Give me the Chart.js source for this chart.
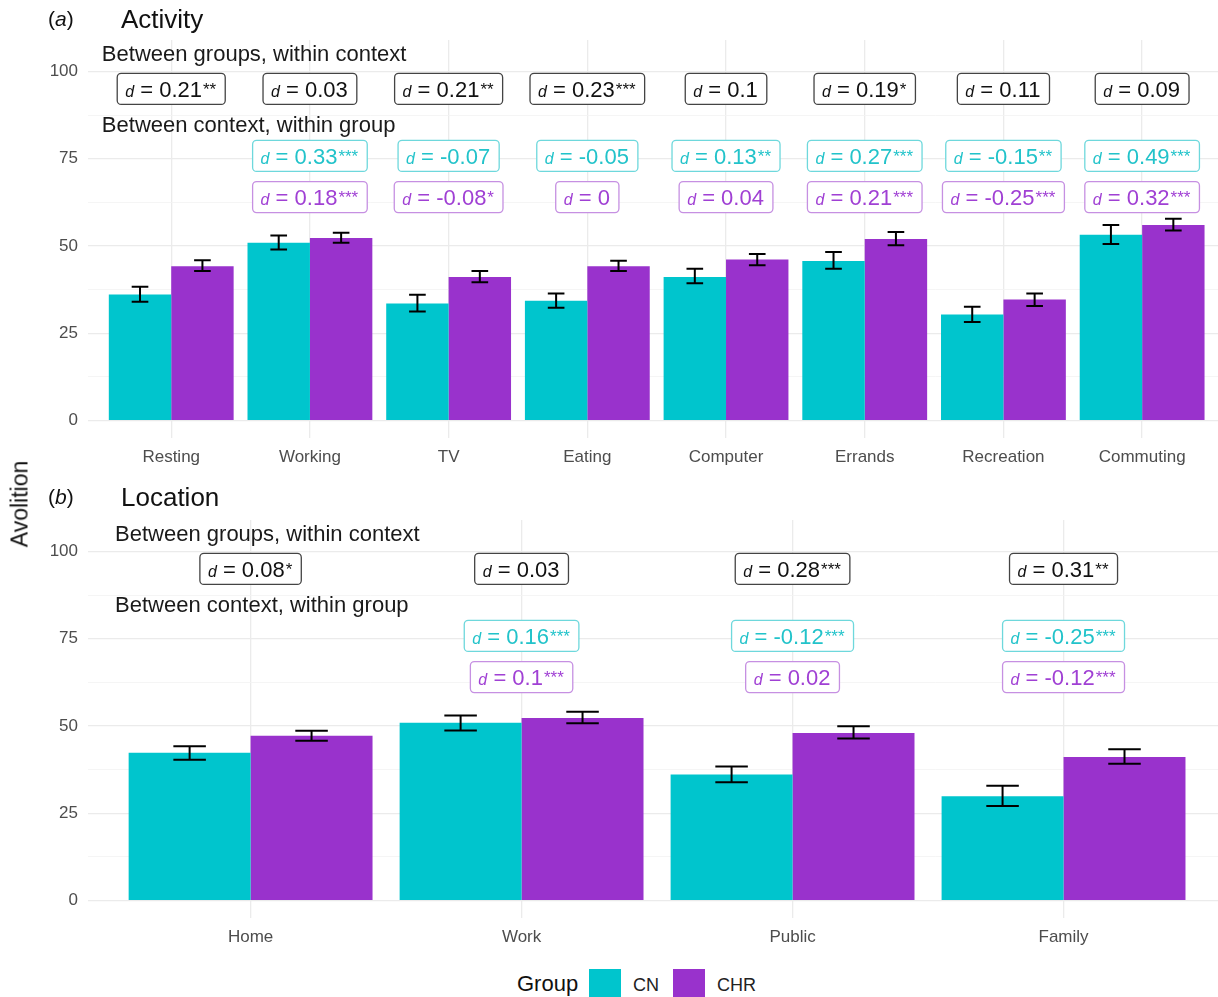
<!DOCTYPE html>
<html>
<head>
<meta charset="utf-8">
<script src="https://cdn.jsdelivr.net/npm/chart.js@4.4.1/dist/chart.umd.min.js"></script>
<style>
  body { margin: 0; background: #fff; font-family: "Liberation Sans", Arial, sans-serif; }
  #wrap { position: relative; width: 1218px; height: 997px; overflow: hidden; }
  canvas { position: absolute; left: 0; }
  .t { position: absolute; white-space: nowrap; color: #111; }
  .sq { position: absolute; width: 32px; height: 32px; }
</style>
</head>
<body>
<div id="wrap">
  <canvas id="actChart" width="1218" height="475" style="top:0"></canvas>
  <canvas id="locChart" width="1218" height="475" style="top:480px"></canvas>

  <div class="t" style="left:48px;top:7px;font-size:21px">(<i>a</i>)</div>
  <div class="t" style="left:121px;top:4px;font-size:26px">Activity</div>
  <div class="t" style="left:48px;top:485px;font-size:21px">(<i>b</i>)</div>
  <div class="t" style="left:121px;top:482px;font-size:26px">Location</div>
  <div class="t" style="left:20px;top:504px;font-size:23px;transform:translate(-50%,-50%) rotate(-90deg)">Avolition</div>

  <div class="t" style="left:517px;top:971px;font-size:22px">Group</div>
  <div class="sq" style="left:589px;top:969px;background:#00C5CD"></div>
  <div class="t" style="left:633px;top:975px;font-size:18px;color:#222">CN</div>
  <div class="sq" style="left:673px;top:969px;background:#9932CC"></div>
  <div class="t" style="left:717px;top:975px;font-size:18px;color:#222">CHR</div>
</div>
<script>
// panel (a): activity
const actCats = ["Resting", "Working", "TV", "Eating", "Computer", "Errands", "Recreation", "Commuting"];
const actCN = [36.1, 50.9, 33.5, 34.3, 41.1, 45.7, 30.4, 53.2];
const actCNLo = [34.0, 49.0, 31.2, 32.3, 39.3, 43.5, 28.2, 50.6];
const actCNHi = [38.3, 53.0, 36.0, 36.4, 43.5, 48.3, 32.6, 56.0];
const actCHR = [44.2, 52.3, 41.1, 44.2, 46.1, 52.0, 34.7, 56.0];
const actCHRLo = [42.8, 50.9, 39.6, 42.8, 44.5, 50.2, 32.8, 54.4];
const actCHRHi = [45.9, 53.8, 42.8, 45.8, 47.7, 54.0, 36.4, 57.8];
const actGroupD = ["0.21**", "0.03", "0.21**", "0.23***", "0.1", "0.19*", "0.11", "0.09"];
const actCNd = [null, "0.33***", "-0.07", "-0.05", "0.13**", "0.27***", "-0.15**", "0.49***"];
const actCHRd = [null, "0.18***", "-0.08*", "0", "0.04", "0.21***", "-0.25***", "0.32***"];

// panel (b): location
const locCats = ["Home", "Work", "Public", "Family"];
const locCN = [42.3, 50.9, 36.1, 29.9];
const locCNLo = [40.3, 48.7, 33.9, 27.1];
const locCNHi = [44.2, 53.0, 38.4, 32.9];
const locCHR = [47.2, 52.3, 48.0, 41.1];
const locCHRLo = [45.8, 50.8, 46.4, 39.2];
const locCHRHi = [48.6, 54.1, 49.9, 43.3];
const locGroupD = ["0.08*", "0.03", "0.28***", "0.31**"];
const locCNd = [null, "0.16***", "-0.12***", "-0.25***"];
const locCHRd = [null, "0.1***", "0.02", "-0.12***"];

const yTicks = [0, 12.5, 25, 37.5, 50, 62.5, 75, 87.5, 100];
const CYAN = "#00C5CD", PURPLE = "#9932CC";
const FONT = '"Liberation Sans", Arial, sans-serif';

Chart.defaults.font.family = FONT;

function dLabel(ctx, x, y, val, textCol, borderCol) {
  const m = val.match(/^(-?[\d.]+)(\**)$/);
  const main = " = " + m[1], stars = m[2];
  ctx.font = "italic 16px " + FONT;
  const wd = ctx.measureText("d").width;
  ctx.font = "22px " + FONT;
  const wm = ctx.measureText(main).width;
  ctx.font = "17px " + FONT;
  const ws = stars ? ctx.measureText(stars).width + 1 : 0;
  const w = wd + wm + ws + 17, h = 31;
  const left = x - w / 2, top = y - h / 2;
  ctx.beginPath();
  ctx.roundRect(left, top, w, h, 4);
  ctx.fillStyle = "#fff";
  ctx.fill();
  ctx.lineWidth = 1.3;
  ctx.strokeStyle = borderCol;
  ctx.stroke();
  ctx.fillStyle = textCol;
  ctx.textAlign = "left";
  ctx.textBaseline = "alphabetic";
  ctx.font = "italic 16px " + FONT;
  ctx.fillText("d", left + 8, y + 8);
  ctx.font = "22px " + FONT;
  ctx.fillText(main, left + 8 + wd, y + 8);
  if (stars) {
    ctx.font = "17px " + FONT;
    ctx.fillText(stars, left + 9 + wd + wm, y + 6);
  }
}

function marksPlugin(lo, hi, groupD, cnD, chrD) {
  return {
    id: "marks",
    afterDatasetsDraw(chart) {
      const ctx = chart.ctx;
      const xs = chart.scales.x, ys = chart.scales.y;
      const half = xs.getPixelForValue(1.06) - xs.getPixelForValue(1);
      ctx.save();
      // error bars
      ctx.strokeStyle = "#000";
      ctx.lineWidth = 2;
      chart.data.datasets.forEach((ds, di) => {
        chart.getDatasetMeta(di).data.forEach((bar, i) => {
          const yl = ys.getPixelForValue(lo[di][i]);
          const yh = ys.getPixelForValue(hi[di][i]);
          ctx.beginPath();
          ctx.moveTo(bar.x, yl); ctx.lineTo(bar.x, yh);
          ctx.moveTo(bar.x - half, yl); ctx.lineTo(bar.x + half, yl);
          ctx.moveTo(bar.x - half, yh); ctx.lineTo(bar.x + half, yh);
          ctx.stroke();
        });
      });
      // headings
      ctx.fillStyle = "#1a1a1a";
      ctx.font = "22px " + FONT;
      ctx.textAlign = "left";
      ctx.textBaseline = "middle";
      ctx.fillText("Between groups, within context", xs.getPixelForValue(0.5), ys.getPixelForValue(104.6));
      ctx.fillText("Between context, within group", xs.getPixelForValue(0.5), ys.getPixelForValue(84.4));
      // effect size labels
      groupD.forEach((v, i) => {
        const x = xs.getPixelForValue(i + 1);
        dLabel(ctx, x, ys.getPixelForValue(95), v, "#111", "#444");
        if (cnD[i] !== null) dLabel(ctx, x, ys.getPixelForValue(75.8), cnD[i], "#22C3CA", "#6ED8DC");
        if (chrD[i] !== null) dLabel(ctx, x, ys.getPixelForValue(64), chrD[i], "#A040D4", "#C690E2");
      });
      ctx.restore();
    }
  };
}

function makeChart(id, cats, cn, chr, lo, hi, groupD, cnD, chrD) {
  const unitMax = cats.length === 8 ? 8.547 : 4.57;
  new Chart(document.getElementById(id), {
    type: "bar",
    data: {
      datasets: [
        { label: "CN", data: cn.map((v, i) => ({ x: i + 1, y: v })), backgroundColor: CYAN },
        { label: "CHR", data: chr.map((v, i) => ({ x: i + 1, y: v })), backgroundColor: PURPLE }
      ]
    },
    options: {
      responsive: false,
      animation: false,
      devicePixelRatio: 1,
      categoryPercentage: 0.9,
      barPercentage: 1.0,
      layout: { padding: { top: 40, right: 0, left: 0, bottom: 0 } },
      plugins: { legend: { display: false }, tooltip: { enabled: false } },
      scales: {
        x: {
          type: "linear",
          offset: false,
          min: 0.4,
          max: unitMax,
          afterBuildTicks: s => { s.ticks = cats.map((c, i) => ({ value: i + 1 })); },
          afterFit: s => { s.height = 37; },
          ticks: {
            autoSkip: false,
            maxRotation: 0,
            padding: 9,
            color: "#4D4D4D",
            font: { size: 17 },
            callback: v => cats[Math.round(v) - 1]
          },
          grid: { offset: false, color: "#EBEBEB", lineWidth: 1.3, drawTicks: false },
          border: { display: false }
        },
        y: {
          min: -5,
          max: 109,
          afterBuildTicks: s => { s.ticks = yTicks.map(v => ({ value: v })); },
          afterFit: s => { s.width = 88; },
          ticks: {
            autoSkip: false,
            padding: 10,
            color: "#4D4D4D",
            font: { size: 17 },
            callback: v => (v % 25 === 0 ? String(v) : "")
          },
          grid: {
            color: c => (c.tick && c.tick.value % 25 === 0 ? "#EBEBEB" : "#F3F3F3"),
            lineWidth: c => (c.tick && c.tick.value % 25 === 0 ? 1.3 : 0.8),
            drawTicks: false
          },
          border: { display: false }
        }
      }
    },
    plugins: [marksPlugin(lo, hi, groupD, cnD, chrD)]
  });
}

makeChart("actChart", actCats, actCN, actCHR, [actCNLo, actCHRLo], [actCNHi, actCHRHi], actGroupD, actCNd, actCHRd);
makeChart("locChart", locCats, locCN, locCHR, [locCNLo, locCHRLo], [locCNHi, locCHRHi], locGroupD, locCNd, locCHRd);
</script>
</body>
</html>
